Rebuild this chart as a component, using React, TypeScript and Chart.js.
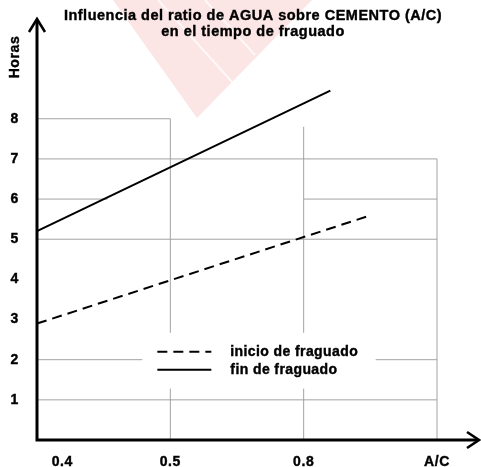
import React, { useEffect, useRef } from "react";
import { Chart, registerables } from "chart.js";

Chart.register(...registerables);

// ---- data ----
const TITLE_LINES = ["Influencia del ratio de AGUA sobre CEMENTO (A/C)", "en el tiempo de fraguado"];
const Y_TITLE = "Horas";
const X_LABELS = ["0.4", "0.5", "0.8", "A/C"];
const X_TICK_POS = [0.19, 1, 2, 3];
const Y_TICKS = [1, 2, 3, 4, 5, 6, 7, 8];

const SERIES_NAMES = ["inicio de fraguado", "fin de fraguado"];
const INICIO_X = [0, 2.47];
const INICIO_Y = [2.9, 5.56];
const FIN_X = [0, 2.2];
const FIN_Y = [5.2, 8.7];

// grid segments [y, xFrom, xTo] and [x, yFrom, yTo]
const GRID_H = [
  [8, 0, 1],
  [7, 0, 3],
  [6, 0, 0.53],
  [6, 2, 3],
  [5, 0, 3],
  [2, 0, 3],
  [1, 0, 3],
];
const GRID_V = [
  [1, 0, 8],
  [2, 0, 7.8],
  [3, 0, 7],
];

const FONT = "'Liberation Sans', Arial, Helvetica, sans-serif";
const GRID_COLOR = "#a3a3a3";

const watermarkPlugin = {
  id: "watermark",
  beforeDraw(chart: any) {
    const ctx = chart.ctx;
    ctx.save();
    ctx.fillStyle = "rgba(235,70,70,0.14)";
    ctx.beginPath();
    ctx.moveTo(113, 0);
    ctx.lineTo(312, 0);
    ctx.lineTo(197, 118);
    ctx.closePath();
    ctx.fill();
    ctx.strokeStyle = "rgba(255,255,255,0.7)";
    ctx.lineWidth = 2;
    ctx.beginPath();
    ctx.moveTo(158, 0);
    ctx.lineTo(234, 84);
    ctx.moveTo(205, 0);
    ctx.lineTo(255, 55);
    ctx.stroke();
    ctx.restore();
    ctx.letterSpacing = "0.6px";
  },
};

function boldText(ctx: any, text: string, x: number, y: number) {
  ctx.fillText(text, x, y);
  ctx.lineWidth = 0.4;
  ctx.strokeStyle = "#000";
  ctx.strokeText(text, x, y);
}

const decorPlugin = {
  id: "decor",
  afterDatasetsDraw(chart: any) {
    const ctx = chart.ctx;
    const xs = chart.scales.x;
    const ys = chart.scales.y;
    const x0 = xs.getPixelForValue(0);
    const y0 = ys.getPixelForValue(0);
    ctx.save();

    // legend box
    const bl = xs.getPixelForValue(0.79);
    const br = xs.getPixelForValue(2.54);
    const bt = ys.getPixelForValue(2.67);
    const bb = ys.getPixelForValue(1.28);
    ctx.fillStyle = "#ffffff";
    ctx.fillRect(bl, bt, br - bl, bb - bt);
    const rows = [bt + 19, bt + 37];
    chart.data.datasets.forEach((ds: any, i: number) => {
      if (i > 1) return;
      ctx.strokeStyle = "#000";
      ctx.lineWidth = 2;
      ctx.setLineDash(ds.borderDash || []);
      ctx.beginPath();
      ctx.moveTo(bl + 15, rows[i]);
      ctx.lineTo(bl + 69, rows[i]);
      ctx.stroke();
      ctx.setLineDash([]);
      ctx.fillStyle = "#000";
      ctx.font = `bold 14px ${FONT}`;
      ctx.letterSpacing = "0.4px";
      ctx.textBaseline = "middle";
      ctx.textAlign = "left";
      boldText(ctx, ds.label, bl + 88, rows[i]);
    });

    // axes with arrows
    ctx.strokeStyle = "#000";
    ctx.lineWidth = 3;
    ctx.lineCap = "butt";
    ctx.beginPath();
    ctx.moveTo(x0, y0 + 1.5);
    ctx.lineTo(x0, 20);
    ctx.moveTo(x0 - 1.5, y0);
    ctx.lineTo(478, y0);
    ctx.stroke();
    ctx.lineWidth = 2.5;
    ctx.lineJoin = "miter";
    ctx.beginPath();
    ctx.moveTo(x0 - 8, 32);
    ctx.lineTo(x0, 19);
    ctx.lineTo(x0 + 8, 32);
    ctx.moveTo(467, y0 - 8);
    ctx.lineTo(479, y0);
    ctx.lineTo(467, y0 + 8);
    ctx.stroke();

    // title
    ctx.fillStyle = "#000";
    ctx.textAlign = "center";
    ctx.textBaseline = "middle";
    ctx.font = `bold 14.5px ${FONT}`;
    ctx.letterSpacing = "0.5px";
    boldText(ctx, TITLE_LINES[0], 253, 16);
    boldText(ctx, TITLE_LINES[1], 253, 32);

    // y title
    ctx.save();
    ctx.translate(15, 57);
    ctx.rotate(-Math.PI / 2);
    ctx.font = `bold 14px ${FONT}`;
    ctx.letterSpacing = "0.6px";
    boldText(ctx, Y_TITLE, 0, 0);
    ctx.restore();

    ctx.restore();
  },
};

export default function App() {
  const ref = useRef<HTMLCanvasElement>(null);
  useEffect(() => {
    if (!ref.current) return;
    const gridSets: any[] = [];
    GRID_H.forEach(([y, a, b]) =>
      gridSets.push({
        label: "",
        data: [
          { x: a, y },
          { x: b, y },
        ],
        borderColor: GRID_COLOR,
        borderWidth: 1,
        pointRadius: 0,
        clip: false,
        order: 5,
      })
    );
    GRID_V.forEach(([x, a, b]) =>
      gridSets.push({
        label: "",
        data: [
          { x, y: a },
          { x, y: b },
        ],
        borderColor: GRID_COLOR,
        borderWidth: 1,
        pointRadius: 0,
        clip: false,
        order: 5,
      })
    );
    const chart = new Chart(ref.current, {
      type: "line",
      data: {
        datasets: [
          {
            label: SERIES_NAMES[0],
            data: INICIO_X.map((x, i) => ({ x, y: INICIO_Y[i] })),
            borderColor: "#000",
            borderWidth: 2,
            borderDash: [10, 6],
            pointRadius: 0,
            clip: false,
            order: 1,
          },
          {
            label: SERIES_NAMES[1],
            data: FIN_X.map((x, i) => ({ x, y: FIN_Y[i] })),
            borderColor: "#000",
            borderWidth: 2,
            pointRadius: 0,
            clip: false,
            order: 1,
          },
          ...gridSets,
        ],
      },
      options: {
        responsive: false,
        animation: false,
        devicePixelRatio: 1,
        layout: { padding: { left: 0, right: 4, top: 23, bottom: 0 } },
        plugins: {
          legend: { display: false },
          title: { display: false },
          tooltip: { enabled: false },
        },
        scales: {
          x: {
            type: "linear",
            min: 0,
            max: 3.3,
            grid: { display: false, drawTicks: false },
            border: { display: false },
            afterBuildTicks: (s: any) => {
              s.ticks = X_TICK_POS.map((v) => ({ value: v }));
            },
            afterFit: (s: any) => {
              s.height = 27;
            },
            ticks: {
              autoSkip: false,
              maxRotation: 0,
              padding: 14,
              color: "#000",
              textStrokeColor: "#000",
              textStrokeWidth: 0.4,
              font: { family: FONT, size: 14, weight: "bold" },
              callback: (_v: any, i: number) => X_LABELS[i],
            },
          },
          y: {
            type: "linear",
            min: 0,
            max: 10.3,
            grid: { display: false, drawTicks: false },
            border: { display: false },
            afterBuildTicks: (s: any) => {
              s.ticks = Y_TICKS.map((v) => ({ value: v }));
            },
            afterFit: (s: any) => {
              s.width = 37;
            },
            ticks: {
              padding: 18,
              color: "#000",
              textStrokeColor: "#000",
              textStrokeWidth: 0.4,
              font: { family: FONT, size: 14, weight: "bold" },
              callback: (v: any) => String(v),
            },
          },
        },
      } as any,
      plugins: [watermarkPlugin, decorPlugin],
    });
    return () => chart.destroy();
  }, []);
  return (
    <div style={{ position: "fixed", left: 0, top: 0, width: 481, height: 467, background: "#fff" }}>
      <canvas ref={ref} width={481} height={467} style={{ display: "block" }} />
    </div>
  );
}
